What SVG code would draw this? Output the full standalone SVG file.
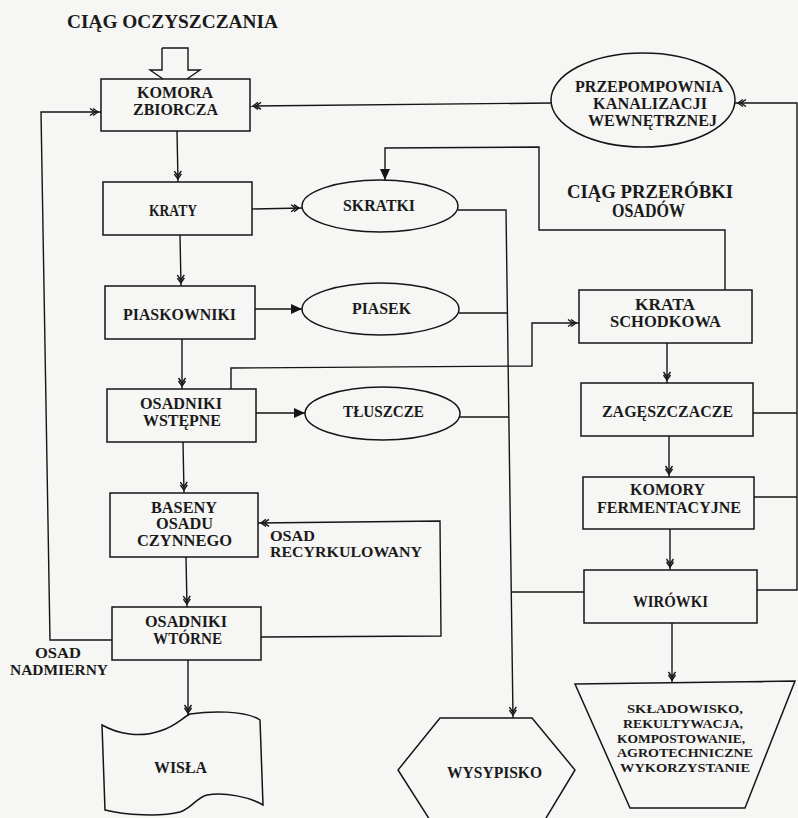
<svg xmlns="http://www.w3.org/2000/svg" width="798" height="818" viewBox="0 0 798 818">
  <defs>
    <style>
      .bg { fill: #f6f6f4; }
      .node { fill: none; stroke: #151515; stroke-width: 1.5; }
      .wire { fill: none; stroke: #151515; stroke-width: 1.4; }
      text { font-family: 'Liberation Serif', 'DejaVu Serif', serif; font-weight: bold; fill: #1a1a1a; font-size: 16px; }
      text.big { font-size: 18px; }
      text.mid { font-size: 14.5px; }
      text.small { font-size: 13px; }
    </style>
    <!-- tiny double chevron used on most flow lines -->
    <marker id="dbl" viewBox="-12 -6 14 12" refX="0" refY="0" markerWidth="14" markerHeight="12" markerUnits="userSpaceOnUse" orient="auto">
      <path d="M-11,-3.5 L-6,0 L-11,3.5 M-8,-3.5 L-3,0 L-8,3.5" fill="none" stroke="#151515" stroke-width="1.4"/>
    </marker>
    <!-- solid triangular head -->
    <marker id="solid" viewBox="-12 -6 14 12" refX="0" refY="0" markerWidth="14" markerHeight="12" markerUnits="userSpaceOnUse" orient="auto">
      <path d="M-11,-5 L0,0 L-11,5 Z" fill="#151515"/>
    </marker>
  </defs>

  <rect class="bg" x="0" y="0" width="798" height="818"/>

  <!-- section headings -->
  <text class="big" x="67" y="28" textLength="211" lengthAdjust="spacingAndGlyphs">CIĄG OCZYSZCZANIA</text>
  <text class="big" x="567" y="198" textLength="166" lengthAdjust="spacingAndGlyphs">CIĄG PRZERÓBKI</text>
  <text class="big" x="612" y="217" textLength="73" lengthAdjust="spacingAndGlyphs">OSADÓW</text>

  <!-- connectors -->
  <g id="connectors">
    <!-- inflow block arrow -->
    <path class="wire" d="M162,48 L188,48 L188,70 L200,70 L187,79 M162,48 L162,70 L150,70 L163,79"/>
    <!-- main treatment line -->
    <path class="wire" d="M177,131 L178,182" marker-end="url(#dbl)"/>
    <path class="wire" d="M180,235 L181,286" marker-end="url(#dbl)"/>
    <path class="wire" d="M182,339 L182,389" marker-end="url(#dbl)"/>
    <path class="wire" d="M183,442 L184,493" marker-end="url(#dbl)"/>
    <path class="wire" d="M186,557 L187,607" marker-end="url(#dbl)"/>
    <path class="wire" d="M188,660 L188,716" marker-end="url(#dbl)"/>
    <!-- excess sludge back to the collection chamber -->
    <path class="wire" d="M112,640 L50,640 L41,112 L101,112" marker-end="url(#dbl)"/>
    <!-- return activated sludge -->
    <path class="wire" d="M261,637 L441,636 L440,521 L258,523" marker-end="url(#dbl)"/>
    <!-- side products -->
    <path class="wire" d="M252,209 L302,208" marker-end="url(#dbl)"/>
    <path class="wire" d="M255,309 L302,309" marker-end="url(#solid)"/>
    <path class="wire" d="M256,413 L305,413" marker-end="url(#solid)"/>
    <!-- collector to landfill -->
    <path class="wire" d="M458,210 L506,210 L513,718" marker-end="url(#dbl)"/>
    <path class="wire" d="M459,313 L508,313"/>
    <path class="wire" d="M460,417 L509,417"/>
    <path class="wire" d="M584,592 L512,592"/>
    <!-- primary sludge to step screen -->
    <path class="wire" d="M231,389 L231,368 L532,366 L532,323 L579,323" marker-end="url(#dbl)"/>
    <!-- step screen screenings back to SKRATKI -->
    <path class="wire" d="M725,290 L725,230 L539,230 L539,147 L385,148 L385,180" marker-end="url(#solid)"/>
    <!-- internal sewage pumping station to collection chamber -->
    <path class="wire" d="M552,103 L250,106" marker-end="url(#dbl)"/>
    <!-- sludge line returns -->
    <path class="wire" d="M753,413 L797,413"/>
    <path class="wire" d="M754,497 L797,497"/>
    <path class="wire" d="M757,590 L797,590 L797,103 L735,103" marker-end="url(#dbl)"/>
    <!-- sludge treatment line -->
    <path class="wire" d="M667,343 L667,383" marker-end="url(#dbl)"/>
    <path class="wire" d="M669,436 L669,477" marker-end="url(#dbl)"/>
    <path class="wire" d="M670,529 L670,570" marker-end="url(#dbl)"/>
    <path class="wire" d="M672,623 L672,683" marker-end="url(#dbl)"/>
  </g>

  <!-- treatment line nodes -->
  <g id="komora-zbiorcza">
    <rect class="node" x="101" y="79" width="149" height="52"/>
    <text x="137" y="98" textLength="76" lengthAdjust="spacingAndGlyphs">KOMORA</text>
    <text x="133" y="115" textLength="85" lengthAdjust="spacingAndGlyphs">ZBIORCZA</text>
  </g>
  <g id="kraty">
    <rect class="node" x="103" y="182" width="149" height="53"/>
    <text x="149" y="216" textLength="48" lengthAdjust="spacingAndGlyphs">KRATY</text>
  </g>
  <g id="piaskowniki">
    <rect class="node" x="105" y="286" width="150" height="53"/>
    <text x="123" y="320" textLength="113" lengthAdjust="spacingAndGlyphs">PIASKOWNIKI</text>
  </g>
  <g id="osadniki-wstepne">
    <rect class="node" x="107" y="389" width="149" height="53"/>
    <text x="140" y="409" textLength="82" lengthAdjust="spacingAndGlyphs">OSADNIKI</text>
    <text x="143" y="426" textLength="78" lengthAdjust="spacingAndGlyphs">WSTĘPNE</text>
  </g>
  <g id="baseny-osadu-czynnego">
    <rect class="node" x="110" y="493" width="148" height="64"/>
    <text x="151" y="513" textLength="66" lengthAdjust="spacingAndGlyphs">BASENY</text>
    <text x="156" y="529" textLength="57" lengthAdjust="spacingAndGlyphs">OSADU</text>
    <text x="137" y="546" textLength="95" lengthAdjust="spacingAndGlyphs">CZYNNEGO</text>
  </g>
  <g id="osad-recyrkulowany-label">
    <text class="mid" x="270" y="541" textLength="45" lengthAdjust="spacingAndGlyphs">OSAD</text>
    <text class="mid" x="270" y="557" textLength="152" lengthAdjust="spacingAndGlyphs">RECYRKULOWANY</text>
  </g>
  <g id="osadniki-wtorne">
    <rect class="node" x="112" y="607" width="149" height="53"/>
    <text x="145" y="627" textLength="82" lengthAdjust="spacingAndGlyphs">OSADNIKI</text>
    <text x="153" y="644" textLength="69" lengthAdjust="spacingAndGlyphs">WTÓRNE</text>
  </g>
  <g id="osad-nadmierny-label">
    <text class="mid" x="35" y="658" textLength="46" lengthAdjust="spacingAndGlyphs">OSAD</text>
    <text class="mid" x="10" y="675" textLength="98" lengthAdjust="spacingAndGlyphs">NADMIERNY</text>
  </g>
  <g id="wisla">
    <path class="node" d="M102,725 C118,734 140,738 160,731 C176,726 182,718 190,714 C210,711 245,710 260,720 L263,805 C250,797 225,792 207,795 C196,798 192,808 180,812 C160,817 125,815 105,810 Z"/>
    <text x="154" y="773" textLength="53" lengthAdjust="spacingAndGlyphs">WISŁA</text>
  </g>

  <!-- by-product nodes -->
  <g id="skratki">
    <ellipse class="node" cx="380" cy="206" rx="78" ry="26"/>
    <text x="343" y="211" textLength="72" lengthAdjust="spacingAndGlyphs">SKRATKI</text>
  </g>
  <g id="piasek">
    <ellipse class="node" cx="380.5" cy="309" rx="78.5" ry="26"/>
    <text x="352" y="314" textLength="59" lengthAdjust="spacingAndGlyphs">PIASEK</text>
  </g>
  <g id="tluszcze">
    <ellipse class="node" cx="382.5" cy="413.5" rx="77.5" ry="26.5"/>
    <text x="343" y="417" textLength="81" lengthAdjust="spacingAndGlyphs">TŁUSZCZE</text>
  </g>
  <g id="wysypisko">
    <polygon class="node" points="440,718 532,718 575,770 540,828 435,828 398,770"/>
    <text x="447" y="778" textLength="95" lengthAdjust="spacingAndGlyphs">WYSYPISKO</text>
  </g>

  <!-- sludge treatment nodes -->
  <g id="przepompownia">
    <ellipse class="node" cx="643" cy="100" rx="92" ry="47"/>
    <text x="575" y="92" textLength="148" lengthAdjust="spacingAndGlyphs">PRZEPOMPOWNIA</text>
    <text x="593" y="109" textLength="114" lengthAdjust="spacingAndGlyphs">KANALIZACJI</text>
    <text x="588" y="126" textLength="129" lengthAdjust="spacingAndGlyphs">WEWNĘTRZNEJ</text>
  </g>
  <g id="krata-schodkowa">
    <rect class="node" x="579" y="290" width="173" height="53"/>
    <text x="635" y="310" textLength="60" lengthAdjust="spacingAndGlyphs">KRATA</text>
    <text x="610" y="327" textLength="111" lengthAdjust="spacingAndGlyphs">SCHODKOWA</text>
  </g>
  <g id="zageszczacze">
    <rect class="node" x="581" y="383" width="172" height="53"/>
    <text x="602" y="417" textLength="131" lengthAdjust="spacingAndGlyphs">ZAGĘSZCZACZE</text>
  </g>
  <g id="komory-fermentacyjne">
    <rect class="node" x="583" y="477" width="171" height="52"/>
    <text x="630" y="495" textLength="75" lengthAdjust="spacingAndGlyphs">KOMORY</text>
    <text x="597" y="513" textLength="144" lengthAdjust="spacingAndGlyphs">FERMENTACYJNE</text>
  </g>
  <g id="wirowki">
    <rect class="node" x="584" y="570" width="173" height="53"/>
    <text x="633" y="607" textLength="75" lengthAdjust="spacingAndGlyphs">WIRÓWKI</text>
  </g>
  <g id="skladowisko">
    <polygon class="node" points="575,684 795,681 745,808 630,808"/>
    <text class="small" x="627" y="713" textLength="116" lengthAdjust="spacingAndGlyphs">SKŁADOWISKO,</text>
    <text class="small" x="623" y="728" textLength="120" lengthAdjust="spacingAndGlyphs">REKULTYWACJA,</text>
    <text class="small" x="617" y="743" textLength="128" lengthAdjust="spacingAndGlyphs">KOMPOSTOWANIE,</text>
    <text class="small" x="617" y="757" textLength="136" lengthAdjust="spacingAndGlyphs">AGROTECHNICZNE</text>
    <text class="small" x="620" y="772" textLength="130" lengthAdjust="spacingAndGlyphs">WYKORZYSTANIE</text>
  </g>
</svg>
